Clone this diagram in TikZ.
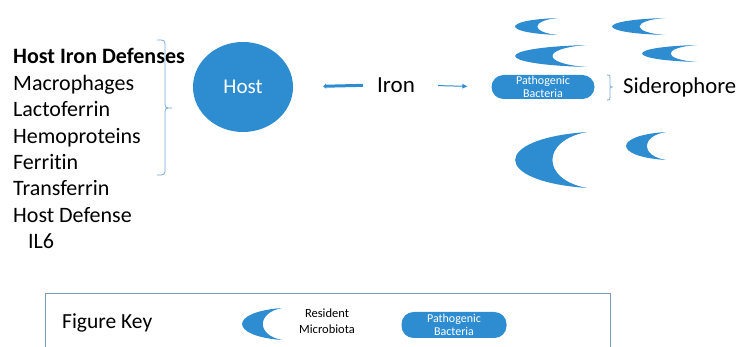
\documentclass[tikz,border=0pt]{standalone}
\usepackage{fontspec}
\setmainfont[Ligatures=NoCommon]{Carlito}
\usepackage{tikz}
\usetikzlibrary{arrows.meta}
\usetikzlibrary{shapes.geometric}
\definecolor{bugblue}{RGB}{46,140,208}
\definecolor{bracketblue}{RGB}{120,170,215}
\definecolor{keyframe}{RGB}{125,155,185}
\tikzset{
	liststyle/.style={anchor=base west,inner sep=0pt,font=\fontsize{22}{26}\selectfont},
	hoststyle/.style={ellipse,fill=bugblue,text=white,minimum width=100pt,minimum height=90pt,font=\fontsize{21}{25}\selectfont},
	pathogenstyle/.style={rectangle,rounded corners=12pt,fill=bugblue,text=white,align=center,inner sep=0pt,font=\fontsize{12}{13.5}\selectfont},
	bracestyle/.style={draw=bracketblue,line width=0.8pt},
	microbe/.pic={\fill[bugblue] (1,0) .. controls (-0.33,0.12) and (-0.33,0.88) .. (1,1) .. controls (0.36,0.85) and (0.36,0.15) .. cycle;}
}

\begin{document}
\begin{tikzpicture}[x=1pt,y=-1pt]
		\useasboundingbox (0,0) rectangle (739,347);
		% host iron defenses
		\node[liststyle,font=\fontsize{22}{26}\selectfont\bfseries] (hdef) at (13,64) {Host Iron Defenses};
		\node[liststyle] (macro) at (13,90.4) {Macrophages};
		\node[liststyle] (lacto) at (13,116.8) {Lactoferrin};
		\node[liststyle] (hemo) at (13,143.2) {Hemoproteins};
		\node[liststyle] (ferri) at (13,169.6) {Ferritin};
		\node[liststyle] (trans) at (13,196) {Transferrin};
		\node[liststyle] (hdefense) at (13,222.4) {Host Defense};
		\node[liststyle] (il6) at (28,248.8) {IL6};
		\draw[bracestyle] (157,40) .. controls (165,40) .. (165,47) -- (165,101) .. controls (165,108) .. (172,108) .. controls (165,108) .. (165,115) -- (165,168) .. controls (165,175) .. (157,175);
		% host, iron, pathogen
		\node[hoststyle] (host) at (243,87) {Host};
		\node[inner sep=0pt,font=\fontsize{23}{26}\selectfont] (iron) at (396,85) {Iron};
		\node[pathogenstyle,minimum width=103pt,minimum height=24pt] (patho) at (543,87) {Pathogenic\\Bacteria};
		\draw[bugblue,line width=3pt,-{Triangle[length=3pt,width=5pt]},shorten <=14pt,shorten >=30pt] (iron.west) -- (host.east);
		\draw[bugblue,line width=1pt,-{Triangle[length=5pt,width=4.5pt]},shorten <=23pt,shorten >=24pt] (iron.east) -- (patho.west);
		\draw[bracestyle] (607,75) .. controls (610,75) .. (610,78) -- (610,85) .. controls (610,87) .. (613,87) .. controls (610,87) .. (610,89) -- (610,97) .. controls (610,100) .. (607,100);
		\node[anchor=base west,inner sep=0pt,font=\fontsize{22.7}{26}\selectfont] (sidero) at (623,94) {Siderophore};
		% resident microbiota
		\pic[xscale=43,yscale=17] at (515,18) {microbe};
		\pic[xscale=53,yscale=17] at (612,18) {microbe};
		\pic[xscale=72,yscale=22] at (515,45) {microbe};
		\pic[xscale=55,yscale=17] at (642,45) {microbe};
		\pic[xscale=72,yscale=56] at (515,132) {microbe};
		\pic[xscale=40,yscale=28] at (626,132) {microbe};
		% figure key
		\draw[keyframe,line width=0.8pt] (45,347) -- (45,293) -- (610,293) -- (610,347);
		\node[anchor=base west,inner sep=0pt,font=\fontsize{21.5}{26}\selectfont] (key) at (62,328) {Figure Key};
		\pic[xscale=40,yscale=32] at (242,308) {microbe};
		\node[align=center,inner sep=0pt,font=\fontsize{12.5}{16.5}\selectfont] (resident) at (327,321) {Resident\\Microbiota};
		\node[pathogenstyle,minimum width=105pt,minimum height=26pt] (keypatho) at (454,325) {Pathogenic\\Bacteria};
\end{tikzpicture}
\end{document}
